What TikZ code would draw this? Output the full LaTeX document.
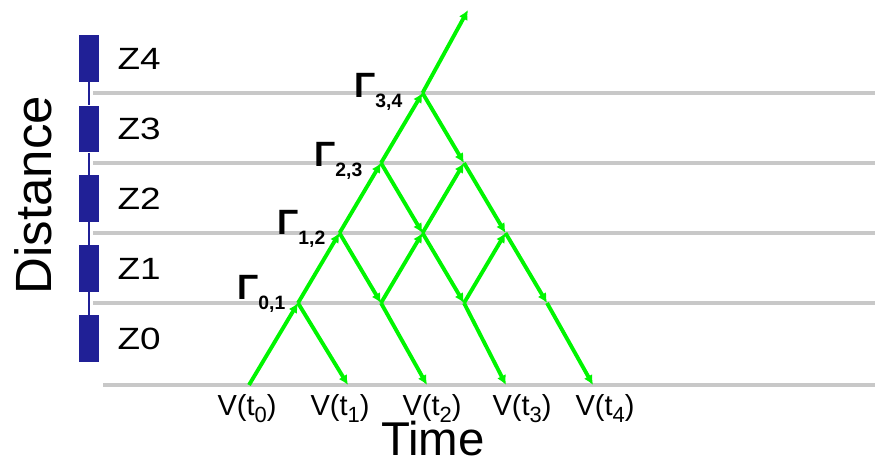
\documentclass[tikz,border=0pt]{standalone}
\usepackage{graphicx}
\usepackage{fontspec}
\setmainfont{Liberation Sans}
\usetikzlibrary{arrows.meta,positioning}
\definecolor{verde}{RGB}{0,245,0}
\definecolor{azulzona}{RGB}{32,32,150}
\definecolor{grisnivel}{RGB}{200,200,200}
\newcommand{\vsub}[1]{\raisebox{-4.5pt}{\fontsize{12.5}{12.5}\selectfont #1}}
\newcommand{\gsub}[1]{\raisebox{-5.5pt}{\fontsize{11}{11}\selectfont\bfseries #1}}
\newcommand{\ancho}[1]{\scalebox{1.2}[1]{#1}}
\begin{document}
\begin{tikzpicture}[x=0.02cm, y=-0.02cm,
      nivel/.style={draw=grisnivel, line width=2.3pt},
      bloque/.style={fill=azulzona, minimum width=0.4cm, minimum height=0.94cm, inner sep=0pt},
      zlab/.style={font=\fontsize{17.5}{20}\selectfont, inner sep=0pt},
      vlab/.style={font=\fontsize{16.5}{19}\selectfont, inner sep=0pt, anchor=base},
      glab/.style={font=\fontsize{20}{22}\selectfont\bfseries, inner sep=0pt, anchor=base west},
      rayo/.style={draw=verde, line width=2.2pt, -{Latex[length=5.5pt,width=5.5pt]}}
    ]
    \useasboundingbox (0,0) rectangle (875,462);
    % Niveles horizontales (fronteras entre zonas y eje de tiempo)
    \draw[nivel] (93,93) -- (875,93);
    \draw[nivel] (93,163) -- (875,163);
    \draw[nivel] (93,233) -- (875,233);
    \draw[nivel] (93,303) -- (875,303);
    \draw[nivel] (103,385) -- (875,385);
    % Zonas a la izquierda
    \node[bloque] (z4) at (89,58.5) {};
    \node[bloque] (z3) at (89,129) {};
    \node[bloque] (z2) at (89,198.5) {};
    \node[bloque] (z1) at (89,268.5) {};
    \node[bloque] (z0) at (89,338.5) {};
    \draw[azulzona, line width=1.2pt] (z4) -- (z3) -- (z2) -- (z1) -- (z0);
    \node[zlab, right=0.36cm of z4] (t4) {\ancho{Z4}};
    \node[zlab, right=0.36cm of z3] (t3) {\ancho{Z3}};
    \node[zlab, right=0.36cm of z2] (t2) {\ancho{Z2}};
    \node[zlab, right=0.36cm of z1] (t1) {\ancho{Z1}};
    \node[zlab, right=0.36cm of z0] (t0) {\ancho{Z0}};
    \node[font=\fontsize{29}{34}\selectfont, rotate=90] (dist) at (33,195) {Distance};
    % Puntos de la red
    \coordinate (b0) at (249,385);
    \coordinate (b1) at (348,385);
    \coordinate (b2) at (427,385);
    \coordinate (b3) at (506,385);
    \coordinate (b4) at (593,385);
    \coordinate (g01) at (298,303);
    \coordinate (c11) at (381,303);
    \coordinate (c12) at (464,303);
    \coordinate (c13) at (547,303);
    \coordinate (g12) at (339.5,233);
    \coordinate (c21) at (422.5,233);
    \coordinate (c22) at (505.5,233);
    \coordinate (g23) at (381,163);
    \coordinate (c31) at (464,163);
    \coordinate (g34) at (422.5,93);
    \coordinate (fin) at (468,10);
    % Ondas que suben y reflexiones
    \draw[rayo] (b0) -- (g01);
    \draw[rayo] (g01) -- (g12);
    \draw[rayo] (g12) -- (g23);
    \draw[rayo] (g23) -- (g34);
    \draw[rayo] (g34) -- (fin);
    \draw[rayo] (g01) -- (b1);
    \draw[rayo] (g12) -- (c11);
    \draw[rayo] (c11) -- (b2);
    \draw[rayo] (g23) -- (c21);
    \draw[rayo] (c21) -- (c12);
    \draw[rayo] (c12) -- (b3);
    \draw[rayo] (g34) -- (c31);
    \draw[rayo] (c31) -- (c22);
    \draw[rayo] (c22) -- (c13);
    \draw[rayo] (c13) -- (b4);
    \draw[rayo] (c11) -- (c21);
    \draw[rayo] (c21) -- (c31);
    \draw[rayo] (c12) -- (c22);
    % Coeficientes de reflexion
    \node[glab] (r01) at (237,300) {Γ\gsub{0,1}};
    \node[glab] (r12) at (277,235) {Γ\gsub{1,2}};
    \node[glab] (r23) at (314,167) {Γ\gsub{2,3}};
    \node[glab] (r34) at (354,98) {Γ\gsub{3,4}};
    % Etiquetas de tiempo
    \node[vlab] (v0) at (247,415) {V(t\vsub{0})};
    \node[vlab] (v1) at (340,415) {V(t\vsub{1})};
    \node[vlab] (v2) at (432,415) {V(t\vsub{2})};
    \node[vlab] (v3) at (522,415) {V(t\vsub{3})};
    \node[vlab] (v4) at (605,415) {V(t\vsub{4})};
    \node[font=\fontsize{27}{32}\selectfont, anchor=base] (tiempo) at (433,455) {Time};
  \end{tikzpicture}
\end{document}
